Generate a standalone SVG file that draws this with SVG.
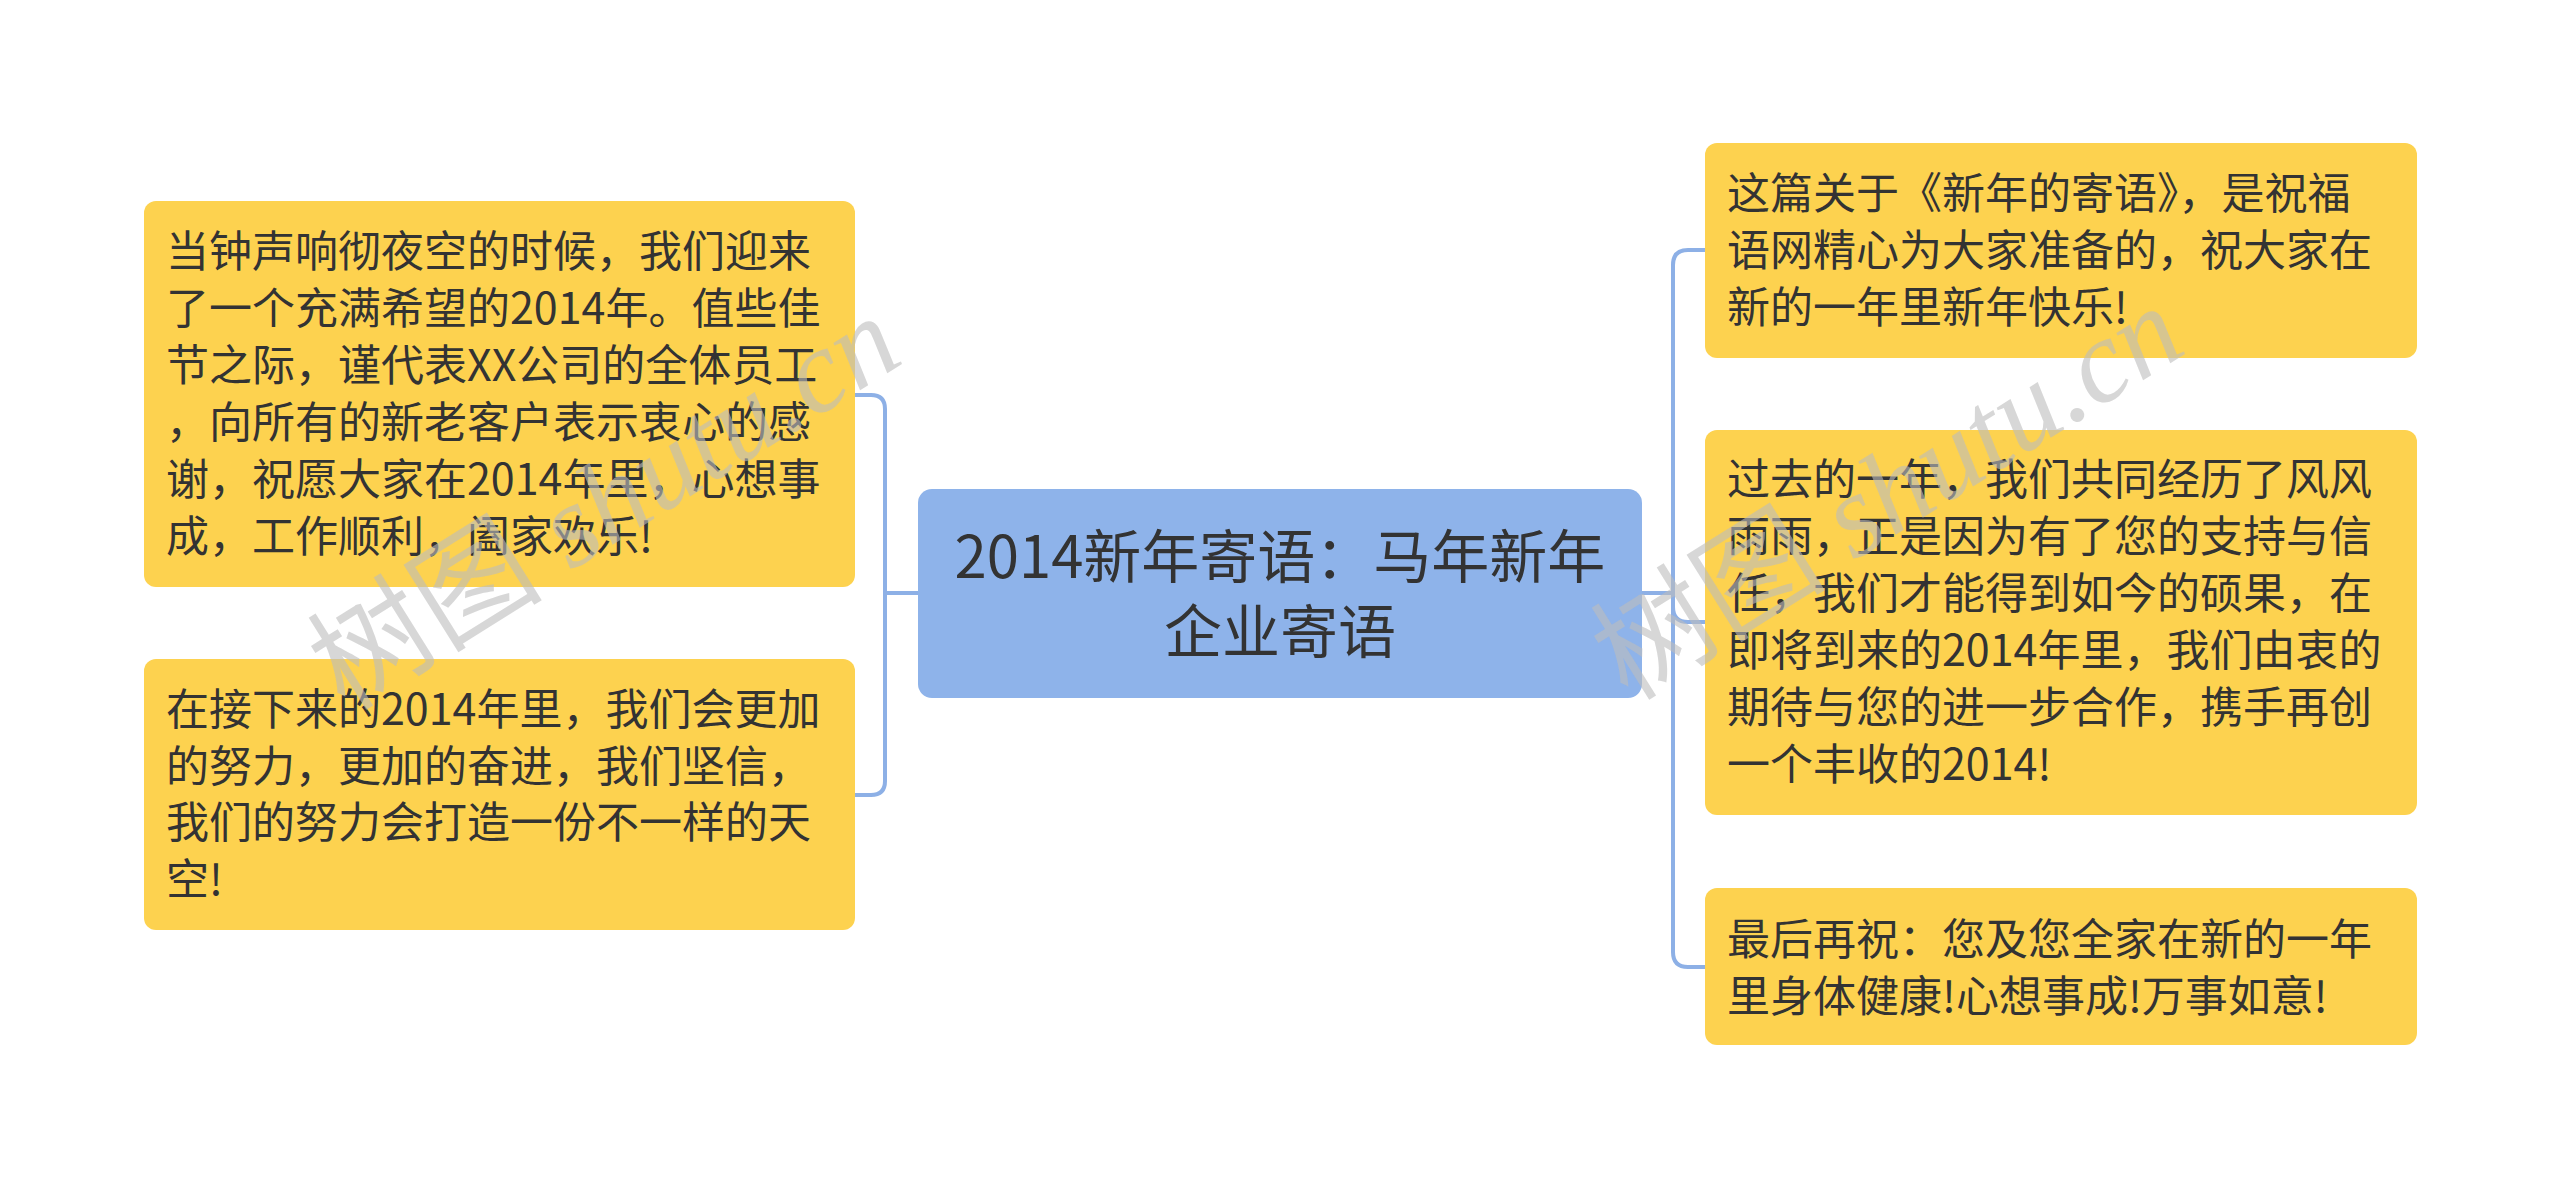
<svg xmlns="http://www.w3.org/2000/svg" width="2560" height="1189" viewBox="0 0 2560 1189">
<style>
.node{fill:#FDD24F;}
.root{fill:#8EB3EA;}
.t{font-family:"Noto Sans CJK SC","Noto Sans",sans-serif;font-size:43px;fill:#333333;}
.rt{font-family:"Noto Sans CJK SC","Noto Sans",sans-serif;font-size:58px;fill:#333333;text-anchor:middle;}
.edge{fill:none;stroke:#8DB0E6;stroke-width:4;stroke-linecap:round;stroke-linejoin:round;}
.wm{font-size:118px;fill:#BDBDBD;fill-opacity:0.6;}
.wmc{font-family:"Noto Sans CJK SC",sans-serif;}
.wml{font-family:"Liberation Serif",serif;font-style:italic;}
</style>
<rect width="2560" height="1189" fill="#FFFFFF"/>
<g id="connectors">
<path class="edge" d="M918,593 H885"/>
<path class="edge" d="M855,395 H871 Q885,395 885,409 V781 Q885,795 871,795 H855"/>
<path class="edge" d="M1642,593 H1673"/>
<path class="edge" d="M1705,250 H1688 Q1673,250 1673,265 V952 Q1673,967 1688,967 H1705"/>
<path class="edge" d="M1673,607 Q1673,622 1688,622 H1705"/>
</g>
<g id="root">
<rect class="root" x="918" y="489" width="724" height="209" rx="14"/>
<text class="rt" x="1280" y="578">2014新年寄语：马年新年</text>
<text class="rt" x="1280" y="653">企业寄语</text>
</g>
<g id="node-l1">
<rect class="node" x="144" y="201" width="711" height="386" rx="12"/>
<text class="t" x="166" y="267">当钟声响彻夜空的时候，我们迎来</text>
<text class="t" x="166" y="324">了一个充满希望的2014年。值些佳</text>
<text class="t" x="166" y="381">节之际，谨代表XX公司的全体员工</text>
<text class="t" x="166" y="438">，向所有的新老客户表示衷心的感</text>
<text class="t" x="166" y="495">谢，祝愿大家在2014年里，心想事</text>
<text class="t" x="166" y="552">成，工作顺利，阖家欢乐!</text>
</g>
<g id="node-l2">
<rect class="node" x="144" y="659" width="711" height="271" rx="12"/>
<text class="t" x="166" y="725">在接下来的2014年里，我们会更加</text>
<text class="t" x="166" y="782">的努力，更加的奋进，我们坚信，</text>
<text class="t" x="166" y="838">我们的努力会打造一份不一样的天</text>
<text class="t" x="166" y="895">空!</text>
</g>
<g id="node-r1">
<rect class="node" x="1705" y="143" width="712" height="215" rx="12"/>
<text class="t" x="1727" y="209">这篇关于《新年的寄语》，是祝福</text>
<text class="t" x="1727" y="266">语网精心为大家准备的，祝大家在</text>
<text class="t" x="1727" y="323">新的一年里新年快乐!</text>
</g>
<g id="node-r2">
<rect class="node" x="1705" y="430" width="712" height="385" rx="12"/>
<text class="t" x="1727" y="495">过去的一年，我们共同经历了风风</text>
<text class="t" x="1727" y="552">雨雨，正是因为有了您的支持与信</text>
<text class="t" x="1727" y="609">任，我们才能得到如今的硕果，在</text>
<text class="t" x="1727" y="666">即将到来的2014年里，我们由衷的</text>
<text class="t" x="1727" y="723">期待与您的进一步合作，携手再创</text>
<text class="t" x="1727" y="780">一个丰收的2014!</text>
</g>
<g id="node-r3">
<rect class="node" x="1705" y="888" width="712" height="157" rx="12"/>
<text class="t" x="1727" y="955">最后再祝：您及您全家在新的一年</text>
<text class="t" x="1727" y="1012">里身体健康!心想事成!万事如意!</text>
</g>
<g id="watermark">
<text class="wm" transform="translate(345,712) rotate(-32)"><tspan class="wmc">树图</tspan><tspan class="wml"> shutu.cn</tspan></text>
<text class="wm" transform="translate(1628,702) rotate(-32)"><tspan class="wmc">树图</tspan><tspan class="wml"> shutu.cn</tspan></text>
</g>
</svg>
